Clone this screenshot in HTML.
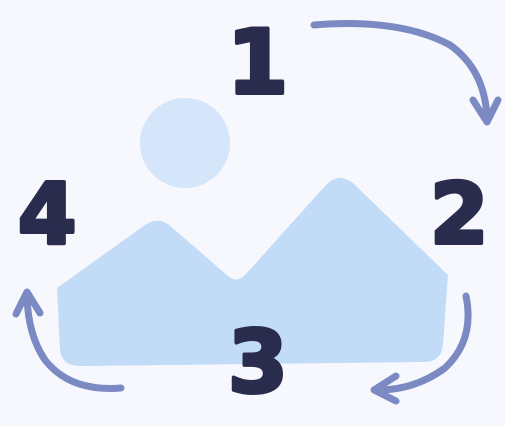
<!DOCTYPE html>
<html><head><meta charset="utf-8"><style>
html,body{margin:0;padding:0;background:#f7f8fd;}
svg{display:block}
text{font-family:"DejaVu Sans","Liberation Sans",sans-serif;font-weight:bold;fill:#2a2c4d;stroke:#2a2c4d;stroke-width:4;stroke-linejoin:round}
</style></head><body>
<svg width="505" height="426" viewBox="0 0 505 426">
<rect width="505" height="426" fill="#f7f8fd"/>
<circle cx="185" cy="143" r="45" fill="#d5e5fa"/>
<path d="M57,288 L145,225 Q157,217 168,224 L228,276 Q237,284 246,274 L325,186 Q340,170 356,186 L448,275 L443,345 Q441,362 424,362 L80,366 Q62,366 60,350 Z" fill="#c2dbf7"/>
<text x="227" y="93" font-size="88">1</text>
<text x="430" y="243" font-size="84">2</text>
<text x="228" y="392" font-size="86">3</text>
<text x="18" y="243" font-size="84">4</text>
<g fill="none" stroke="#7b8ac2" stroke-width="7" stroke-linecap="round" stroke-linejoin="round">
<path d="M314,25 Q400,18 450,45 Q485,70 487,118"/>
<path d="M473,100 L487,122 L498,100"/>
<path d="M466,296 Q475,340 445,368 Q415,390 378,390"/>
<path d="M396,376 L374,390 L396,401"/>
<path d="M121,388 Q70,392 45,360 Q28,335 27,296"/>
<path d="M16,314 L27,292 L40,313"/>
</g>
</svg>
</body></html>
